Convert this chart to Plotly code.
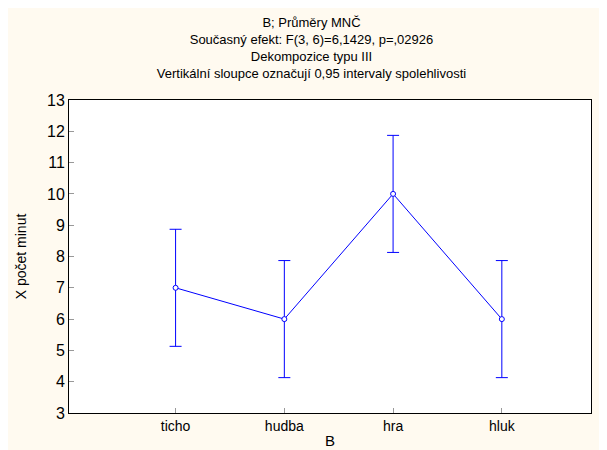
import plotly.graph_objects as go

categories = ["ticho", "hudba", "hra", "hluk"]
means = [7, 6, 10, 6]
ci_upper = [1.87, 1.87, 1.87, 1.87]
ci_lower = [1.87, 1.87, 1.87, 1.87]
y_ticks = list(range(3, 14))

font = "Liberation Sans, Arial, sans-serif"
x_pos = list(range(len(categories)))

fig = go.Figure(go.Scatter(
    x=x_pos, y=means, mode="lines+markers",
    line=dict(color="#0000ff", width=1),
    marker=dict(symbol="circle", size=5, color="white", line=dict(color="#0000ff", width=1)),
    error_y=dict(type="data", symmetric=False, array=ci_upper, arrayminus=ci_lower,
                 color="#0000ff", thickness=1, width=6),
))

fig.update_layout(
    width=607, height=450,
    paper_bgcolor="#fffaf0", plot_bgcolor="white",
    margin=dict(l=61, r=24, t=92, b=41),
    font=dict(family=font, size=14, color="black"),
    showlegend=False,
    title=dict(
        text="B; Průměry MNČ<br>Současný efekt: F(3, 6)=6,1429, p=,02926<br>Dekompozice typu III<br>Vertikální sloupce označují 0,95 intervaly spolehlivosti",
        x=0.5, xanchor="center", y=0.958, yanchor="top",
        font=dict(family=font, size=13),
    ),
    xaxis=dict(
        range=[-0.98, 3.82], tickvals=x_pos, ticktext=categories,
        showgrid=False, zeroline=False, showline=True, mirror=True,
        linecolor="black", linewidth=1, ticks="inside", ticklen=5, tickcolor="#999",
        tickfont=dict(size=14),
        title=dict(text="B", standoff=2, font=dict(size=15)),
    ),
    yaxis=dict(
        range=[3, 13], tickvals=y_ticks,
        showgrid=False, zeroline=False, showline=True, mirror=True,
        linecolor="black", linewidth=1, ticks="inside", ticklen=5, tickcolor="#999",
        tickfont=dict(size=16),
        title=dict(text="X počet minut", standoff=17, font=dict(size=14)),
    ),
)

fig.write_html("out.html")
